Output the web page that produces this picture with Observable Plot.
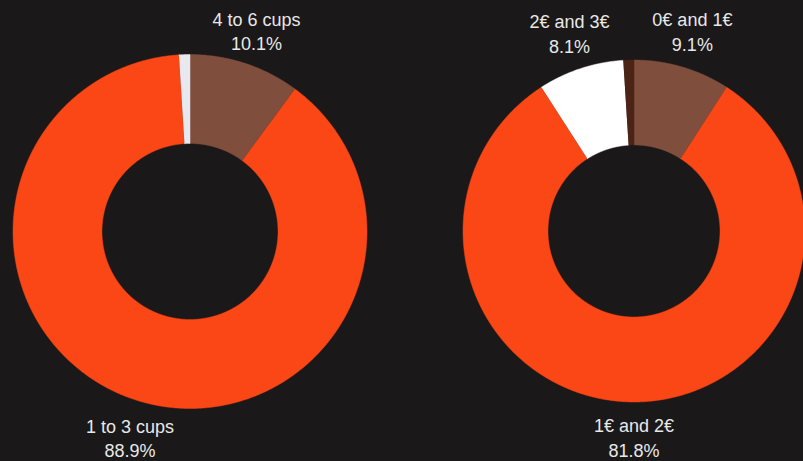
<!DOCTYPE html>
<html><head><meta charset="utf-8">
<script src="https://cdn.jsdelivr.net/npm/d3@7"></script>
<script src="https://cdn.jsdelivr.net/npm/@observablehq/plot@0.6"></script>
<style>
html,body{margin:0;padding:0;background:#1a1818;overflow:hidden;}
#chart{width:803px;height:461px;}
</style></head><body><div id="chart"></div>
<script>
// ---- Data ----
const cupsCategories = ["4 to 6 cups", "1 to 3 cups", "Other"];
const cupsShares = [10.1, 88.9, 1.0];
const priceCategories = ["0€ and 1€", "1€ and 2€", "2€ and 3€", "More than 3€"];
const priceShares = [9.1, 81.8, 8.1, 1.0];

// ---- Styles / layout ----
const cupsColors = ["#7f4e3d", "#fb4615", "#e8e8f0"];
const priceColors = ["#7f4e3d", "#fb4615", "#ffffff", "#4b2415"];
const W = 803, H = 461;
const pies = [
  {categories: cupsCategories, values: cupsShares, colors: cupsColors, cx: 189.5, cy: 231, outer: 177, inner: 88, labelR: 213, labelCy: 232.3},
  {categories: priceCategories, values: priceShares, colors: priceColors, cx: 633.5, cy: 230.5, outer: 171, inner: 86, labelR: 207, labelCy: 229}
];
const minLabel = 5;

const polys = [];
const labels = [];
pies.forEach((p, pi) => {
  const arcs = d3.pie().sort(null).value(d => d)(p.values);
  arcs.forEach((a, i) => {
    const id = pi + "-" + i;
    const step = Math.PI / 720;
    const n = Math.max(2, Math.ceil((a.endAngle - a.startAngle) / step));
    const pts = [];
    for (let k = 0; k <= n; k++) {
      const t = a.startAngle + (a.endAngle - a.startAngle) * k / n;
      pts.push({x: p.cx + p.outer * Math.sin(t), y: p.cy - p.outer * Math.cos(t)});
    }
    for (let k = n; k >= 0; k--) {
      const t = a.startAngle + (a.endAngle - a.startAngle) * k / n;
      pts.push({x: p.cx + p.inner * Math.sin(t), y: p.cy - p.inner * Math.cos(t)});
    }
    pts.forEach(q => polys.push({...q, id, color: p.colors[i]}));
    if (p.values[i] >= minLabel) {
      const m = (a.startAngle + a.endAngle) / 2;
      labels.push({
        x: p.cx + p.labelR * Math.sin(m),
        y: p.labelCy - p.labelR * Math.cos(m),
        text: p.categories[i] + "\n" + p.values[i].toFixed(1) + "%"
      });
    }
  });
});

const chart = Plot.plot({
  width: W,
  height: H,
  margin: 0,
  x: {domain: [0, W], range: [0, W], axis: null},
  y: {domain: [0, H], range: [0, H], axis: null},
  color: {type: "identity"},
  style: {background: "#1a1818", color: "#e8e8e8", overflow: "visible"},
  marks: [
    Plot.line(polys, {x: "x", y: "y", z: "id", fill: "color", stroke: "color", strokeWidth: 0.5}),
    Plot.text(labels, {x: "x", y: "y", text: "text", fill: "#e8e8e8", fontSize: 18, lineHeight: 1.36, fontFamily: "Liberation Sans, Arial, sans-serif"})
  ]
});
document.getElementById("chart").appendChild(chart);
</script>
</body></html>
